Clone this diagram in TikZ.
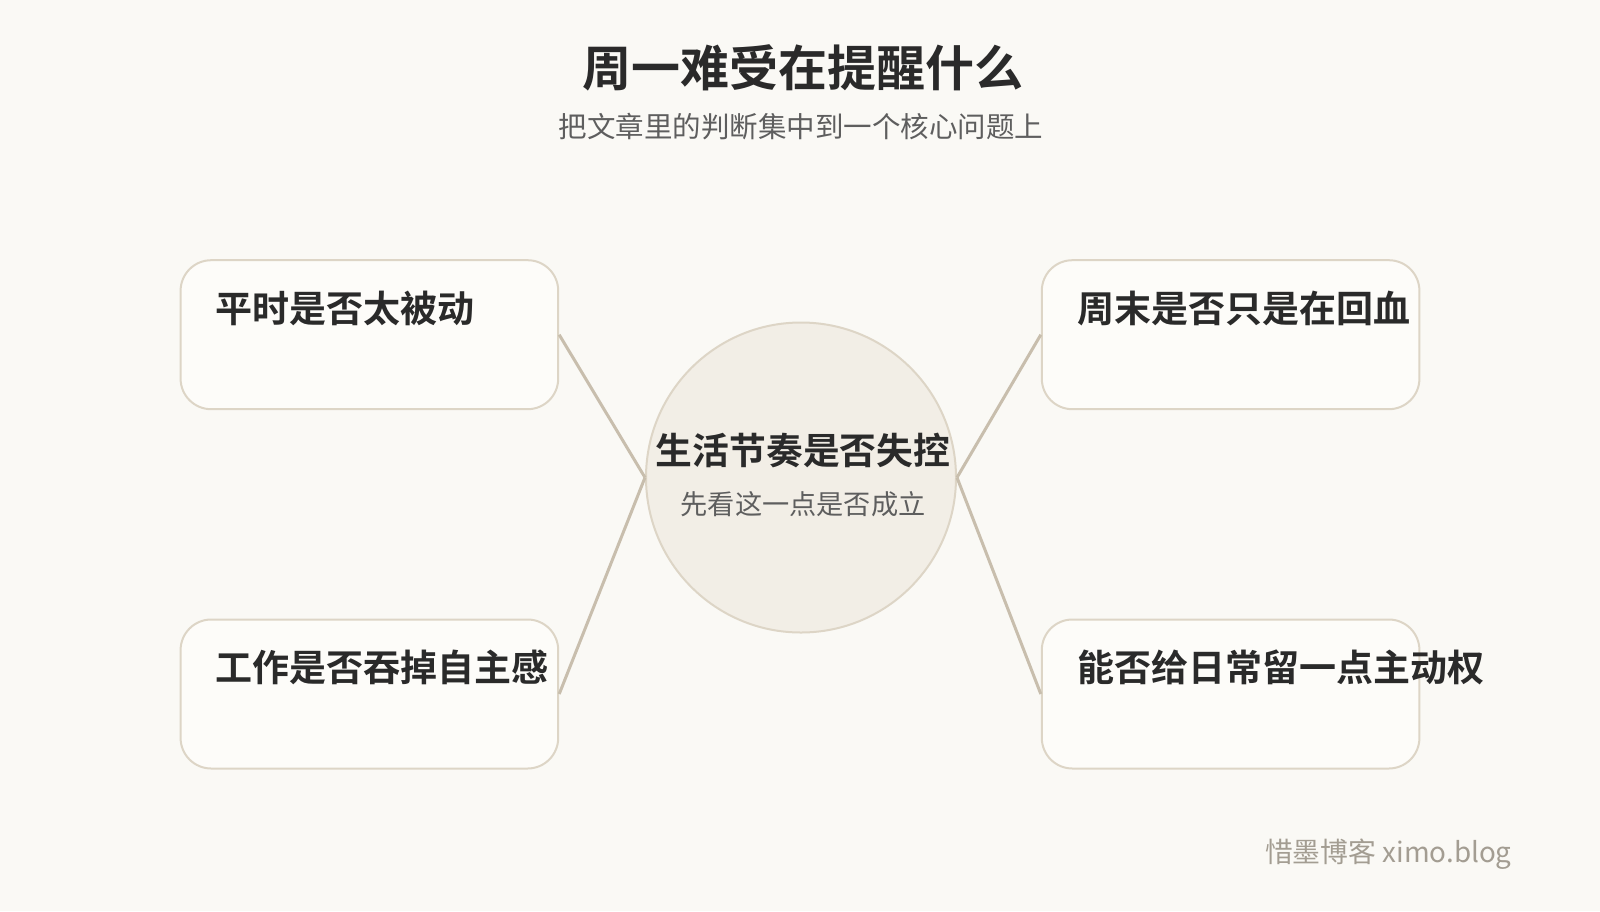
\documentclass[tikz,border=0pt]{standalone}
\usepackage{fontspec}
\usepackage{tikz}
\usetikzlibrary{positioning}
\newfontfamily\cjk{Noto Sans CJK SC}[BoldFont={Noto Sans CJK SC Bold}]

\definecolor{paper}{HTML}{FAF9F5}
\definecolor{cardfill}{HTML}{FDFCF9}
\definecolor{cardline}{HTML}{DDD5C6}
\definecolor{hubfill}{HTML}{F2EEE6}
\definecolor{spoke}{HTML}{C8BEAD}
\definecolor{ink}{HTML}{2A2A2A}
\definecolor{softink}{HTML}{5E5E5E}
\definecolor{markink}{HTML}{A39D92}

\begin{document}
\begin{tikzpicture}[x=0.5pt,y=-0.5pt]

\tikzset{card/.style={draw=cardline, line width=1pt, fill=cardfill, rounded corners=15.3pt,
                      minimum width=188.8pt, minimum height=74.5pt, inner sep=0pt},
         cardtext/.style={anchor=west, inner sep=0pt, text=ink, font=\cjk\bfseries\fontsize{18.5}{21}\selectfont},
         hub/.style={circle, draw=cardline, line width=1pt, fill=hubfill, minimum size=155pt, inner sep=0pt},
         link/.style={draw=spoke, line width=1.5pt}}

\fill[paper] (0,0) rectangle (1600,911);

% title
\node[text=ink, font=\cjk\bfseries\fontsize{24.5}{28}\selectfont] (title) at (803,68) {周一难受在提醒什么};
\node[text=softink, font=\cjk\fontsize{14.25}{17}\selectfont] (subtitle) at (801,126.5) {把文章里的判断集中到一个核心问题上};

% centre
\node[hub] (hub) at (801,477.5) {};
\node[text=ink, font=\cjk\bfseries\fontsize{18.4}{21}\selectfont] (hubtitle) at (803,450) {生活节奏是否失控};
\node[text=softink, font=\cjk\fontsize{13.6}{16}\selectfont] (hubsub) at (803,504) {先看这一点是否成立};

% four cards
\node[card] (passive) at (369.4,334.7) {};
\node[card] (work)    at (369.4,694) {};
\node[card] (weekend) at (1230.6,334.7) {};
\node[card] (agency)  at (1230.6,694) {};

\node[cardtext] (passivet) at ([xshift=17.9pt,yshift=-24.5pt]passive.north west) {平时是否太被动};
\node[cardtext] (workt)    at ([xshift=17.9pt,yshift=-24.5pt]work.north west) {工作是否吞掉自主感};
\node[cardtext] (weekendt) at ([xshift=17.9pt,yshift=-24.5pt]weekend.north west) {周末是否只是在回血};
\node[cardtext] (agencyt)  at ([xshift=17.9pt,yshift=-24.5pt]agency.north west) {能否给日常留一点主动权};

% spokes
\draw[link] (passive.east) -- (hub.west);
\draw[link] (work.east) -- (hub.west);
\draw[link] (hub.east) -- (weekend.west);
\draw[link] (hub.east) -- (agency.west);

% watermark
\node[anchor=east, inner sep=0pt, text=markink, font=\cjk\fontsize{13.9}{17}\selectfont] (mark) at (1512,854) {惜墨博客 ximo.blog};

\end{tikzpicture}
\end{document}
